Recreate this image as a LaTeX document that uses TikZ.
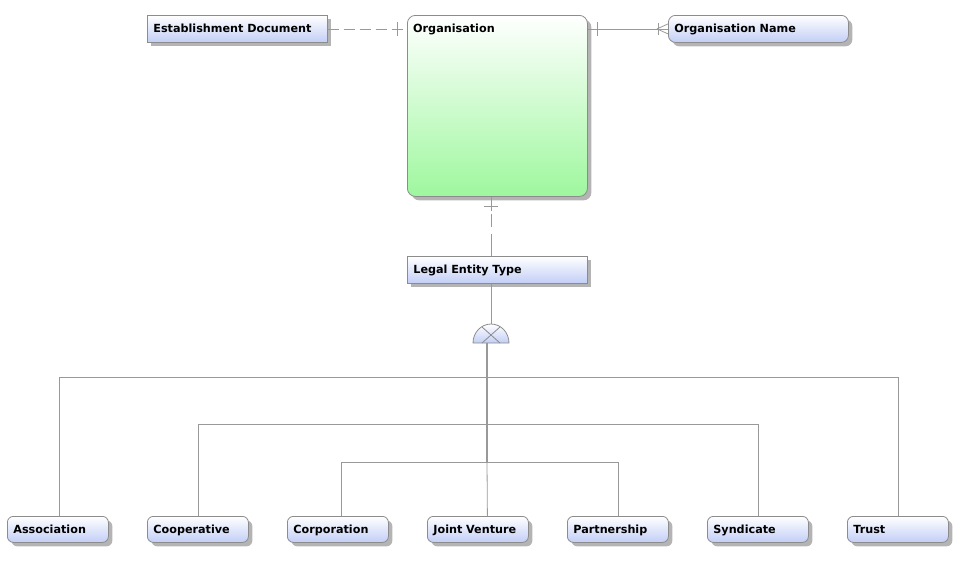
\documentclass[tikz,border=0pt]{standalone}
\usepackage{fontspec}
\setmainfont{DejaVu Sans}
\usetikzlibrary{shadows}
\definecolor{bord}{HTML}{8C8C8C}
\definecolor{linec}{HTML}{999999}
\definecolor{shadowc}{HTML}{B4B4B4}
\definecolor{bluebot}{HTML}{C2CEF6}
\definecolor{greenbot}{HTML}{9EF79E}
\begin{document}
\begin{tikzpicture}[x=1pt,y=-1pt,
  base/.style={draw=bord, line width=0.8pt, anchor=north west, inner xsep=6pt, inner ysep=0pt,
    align=left, font=\fontsize{11.2}{13}\selectfont\bfseries, text height=9.2pt, text depth=1.6pt,
    drop shadow={shadow xshift=4pt, shadow yshift=-4pt, fill=shadowc, opacity=1}},
  entbox/.style={base, top color=white, bottom color=bluebot, minimum height=27pt, text width=168pt},
  namebox/.style={entbox, rounded corners=7pt},
  subbox/.style={base, top color=white, bottom color=bluebot, minimum height=26pt, text width=89pt, rounded corners=6pt},
  orgbox/.style={base, top color=white, bottom color=greenbot, rounded corners=8pt, minimum width=180pt, minimum height=181pt},
  conn/.style={draw=linec, line width=0.8pt},
  thick conn/.style={draw=linec, line width=2.6pt}
]
\useasboundingbox (0,0) rectangle (961,560);

% entities
\node[entbox] (est) at (147,15) {Establishment Document};
\node[orgbox, text height=0pt, text depth=0pt] (org) at (407,15) {};
\node[anchor=base west, inner sep=0pt, font=\fontsize{11.2}{13}\selectfont\bfseries] (orgt) at (413,32) {Organisation};
\node[namebox] (name) at (668,15) {Organisation Name};
\node[entbox] (legal) at (407,256) {Legal Entity Type};

\node[subbox] (assoc) at (7,516) {Association};
\node[subbox] (coop) at (147,516) {Cooperative};
\node[subbox] (corp) at (287,516) {Corporation};
\node[subbox] (jv) at (427,516) {Joint Venture};
\node[subbox] (part) at (567,516) {Partnership};
\node[subbox] (synd) at (707,516) {Syndicate};
\node[subbox] (trust) at (847,516) {Trust};

% relationships
\draw[conn, dash pattern=on 11pt off 5pt] (est.east) -- (est.east -| org.west);
\draw[conn] ([xshift=-10pt]est.east -| org.west) ++(0,-7) -- ++(0,14);

\draw[conn] (org.east |- name.west) -- (name.west);
\draw[conn] ([xshift=10pt]org.east |- name.west) ++(0,-7) -- ++(0,14);
\draw[conn] ([xshift=-10pt]name.west) ++(0,-6) -- ++(0,12);
\draw[conn] ([xshift=-11pt]name.west) -- ([yshift=5pt]name.west);
\draw[conn] ([xshift=-11pt]name.west) -- ([yshift=-5pt]name.west);

\coordinate (vx) at (491,0);
\draw[conn, dash pattern=on 14pt off 3pt on 13pt off 7pt on 40pt] (org.south -| vx) -- (legal.north -| vx);
\draw[conn] ([yshift=-10pt]org.south -| vx) ++(-7,0) -- ++(14,0);

% category symbol
\coordinate (hubtop) at (491,324);
\coordinate (hubbot) at (487,343);
\coordinate (hubjoin) at (487,462);
\draw[conn] (legal.south -| hubtop) -- (hubtop);
\path[draw=bord, line width=0.8pt, top color=white, bottom color=bluebot]
  (473,343) arc[start angle=180, end angle=360, x radius=18, y radius=19] -- cycle;
\draw[draw=bord, line width=0.8pt] (482,327) -- (500,343) (500,327) -- (482,343);

% subtype tree
\draw[conn] ([xshift=1.5pt]assoc.north) -- ++(0,-139) -| (trust.north);
\draw[conn] (coop.north) -- ++(0,-92) -| (synd.north);
\draw[conn] ([xshift=3.5pt]corp.north) -- ++(0,-54) -| (part.north);
\draw[conn] ([xshift=9.5pt]jv.north) -- (hubjoin);
\draw[thick conn] (hubbot) -- (hubjoin);
\end{tikzpicture}
\end{document}
